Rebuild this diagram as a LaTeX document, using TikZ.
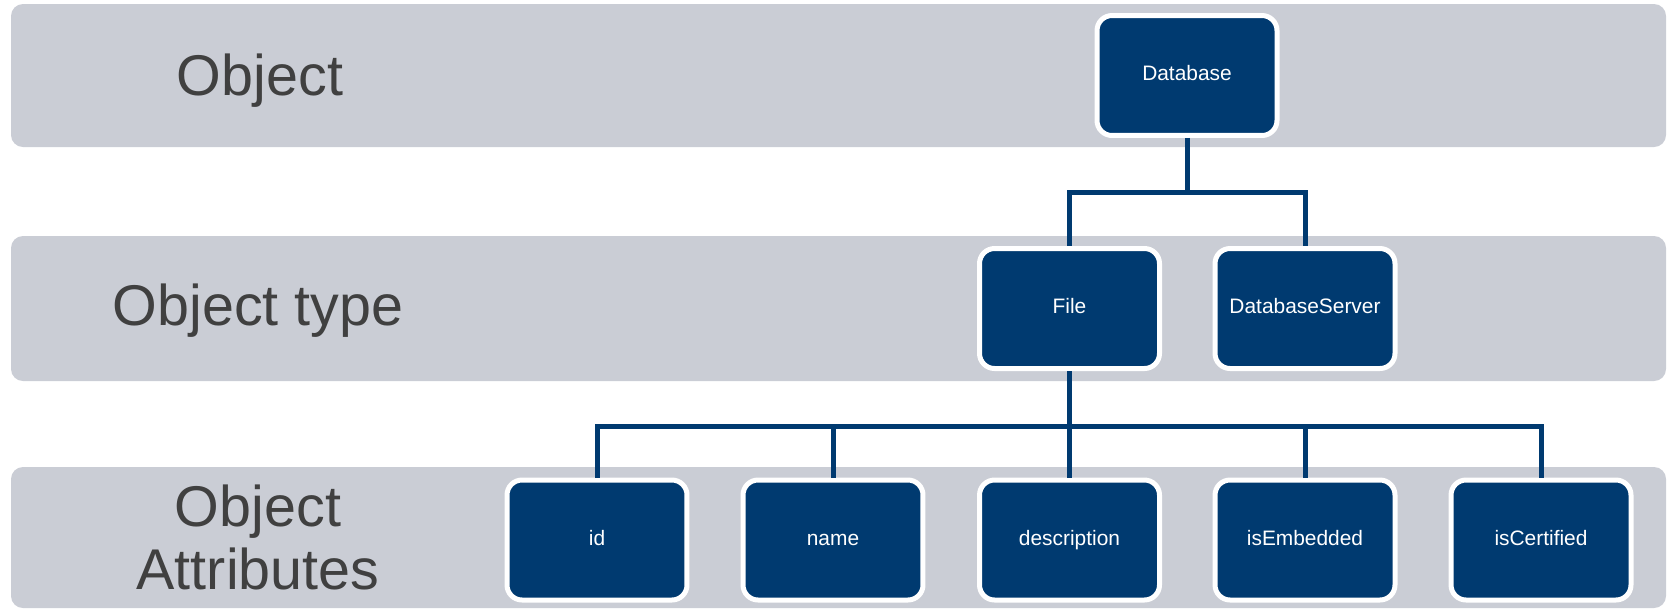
\documentclass[tikz,border=0pt]{standalone}
\usepackage{fontspec}
\setmainfont{Liberation Sans}
\definecolor{bandgray}{HTML}{CACDD5}
\definecolor{boxblue}{HTML}{003A70}
\definecolor{labelgray}{HTML}{404040}

\begin{document}
\begin{tikzpicture}[x=0.02cm, y=-0.02cm,
                    band_style/.style={fill=bandgray, rounded corners=0.24cm},
                    label_style/.style={text=labelgray, align=center,
                                        font=\fontsize{32.7}{35.5}\selectfont},
                    box_style/.style={rectangle, rounded corners=0.3cm, fill=boxblue,
                                      draw=white, line width=0.1cm,
                                      minimum width=3.6cm, minimum height=2.4cm,
                                      text height=8.6pt, text depth=2.5pt,
                                      text=white, font=\fontsize{11.9}{14}\selectfont},
                    edge_style/.style={draw=boxblue, line width=0.1cm}
   ]
   \useasboundingbox (0,0) rectangle (1669,610);
   % Bands
   \fill[band_style] (11,4) rectangle (1666,147);
   \fill[band_style] (11,236) rectangle (1666,381);
   \fill[band_style] (11,467) rectangle (1666,608);
   \node[label_style, anchor=base] (obj) at (260,95) {Object};
   \node[label_style, anchor=base] (objtype) at (258,325) {Object type};
   \node[label_style, anchor=base] (objattr) at (258,589) {Object\\Attributes};
   % Boxes
   \node[box_style] (db) at (1187,75.5) {Database};
   \node[box_style] (file) at (1069.5,308.5) {File};
   \node[box_style] (server) at (1305,308.5) {DatabaseServer};
   \node[box_style] (id) at (597,540) {id};
   \node[box_style] (name) at (833,540) {name};
   \node[box_style] (desc) at (1069.5,540) {description};
   \node[box_style] (embed) at (1305,540) {isEmbedded};
   \node[box_style] (cert) at (1541,540) {isCertified};
   % Connectors
   \coordinate (j1) at (1187,192);
   \coordinate (j2) at (1069.5,426);
   \draw[edge_style] (db) -- (j1);
   \draw[edge_style] (j1) -| (file);
   \draw[edge_style] (j1) -| (server);
   \draw[edge_style] (file) -- (j2);
   \draw[edge_style] (j2) -| (id);
   \draw[edge_style] (j2) -| (name);
   \draw[edge_style] (j2) -- (desc);
   \draw[edge_style] (j2) -| (embed);
   \draw[edge_style] (j2) -| (cert);
\end{tikzpicture}
\end{document}
